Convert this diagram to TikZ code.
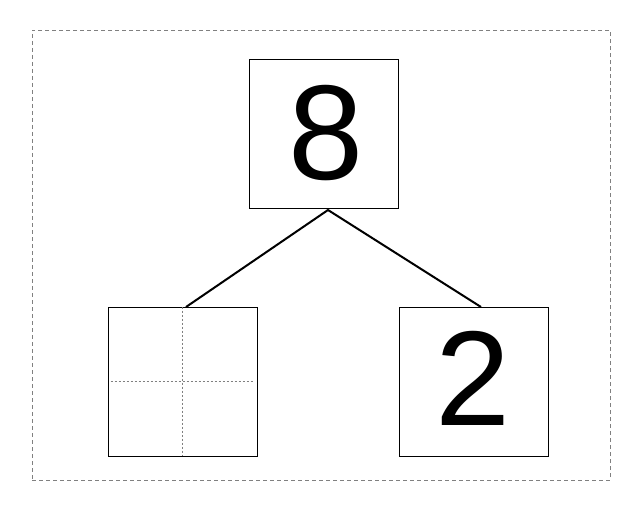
\documentclass[tikz,border=0pt]{standalone}
\usepackage{fontspec}
\setmainfont{Liberation Sans}
\begin{document}
\begin{tikzpicture}[x=1pt,y=-1pt,
  numbox/.style={draw=black,line width=0.8pt,minimum width=149pt,minimum height=149pt,inner sep=0pt},
  digit/.style={inner sep=0pt,font=\fontsize{135}{135}\selectfont},
  link/.style={draw=black,line width=2pt},
  guide/.style={draw=gray,line width=0.7pt,dash pattern=on 2pt off 2pt},
  frame/.style={draw=gray,line width=0.7pt,dash pattern=on 4pt off 3pt}]
\useasboundingbox (0,0) rectangle (642,511);
\node[frame,minimum width=578pt,minimum height=450pt,inner sep=0pt] (fr) at (321,255) {};
\node[numbox] (top) at (323.5,133.5) {};
\node[numbox] (lbox) at (182.5,381.5) {};
\node[numbox] (rbox) at (473.5,381.5) {};
\node[digit] (eight) at (326.5,133.5) {8};
\node[digit] (two) at (473.5,378) {2};
\coordinate (apex) at (328,210);
\coordinate (lend) at (186,307);
\coordinate (rend) at (481,307);
\draw[link] (lend) -- (apex) -- (rend);
\draw[guide] (lbox.north) -- (lbox.south);
\draw[guide] ([xshift=3pt]lbox.west) -- ([xshift=-3pt]lbox.east);
\end{tikzpicture}
\end{document}
